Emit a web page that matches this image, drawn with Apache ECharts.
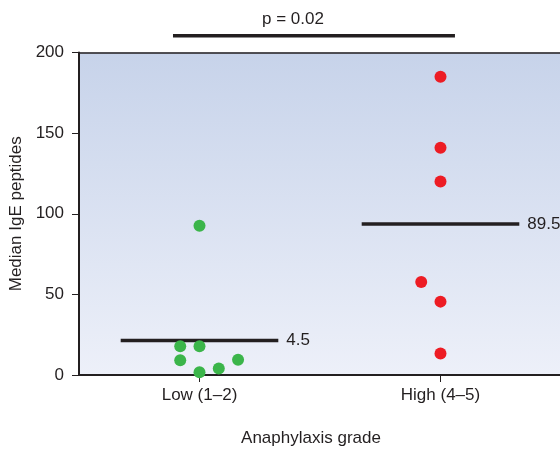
<!DOCTYPE html>
<html>
<head>
<meta charset="utf-8">
<script src="https://cdn.jsdelivr.net/npm/echarts@6/dist/echarts.min.js"></script>
<style>
  html, body { margin: 0; padding: 0; background: #fff; }
  #chart { width: 560px; height: 451px; }
</style>
</head>
<body>
<div id="chart"></div>
<script>
// groups on the x axis (value axis 0..2, groups centred at 0.5 and 1.5)
var groups = ['Low (1–2)', 'High (4–5)'];
var groupPos = [0.5, 1.5];

// individual patients (x = jittered position, y = median IgE peptides)
var lowX = [0.50, 0.42, 0.50, 0.42, 0.66, 0.50, 0.58];
var lowY = [92.5, 17.8, 17.8, 9.2, 9.4, 1.7, 4.0];
var highX = [1.50, 1.50, 1.50, 1.42, 1.50, 1.50];
var highY = [185, 141, 120, 57.7, 45.5, 13.3];

// median bars as drawn, and their printed values
var medianLevels = [21.4, 93.6];
var medianLabels = ['4.5', '89.5'];
var medianHalfWidth = 0.327;

// significance bar
var pSpan = [0.39, 1.56];
var pLevel = 210.4;
var pText = 'p = 0.02';

var ink = '#231f20';
var font = 'Liberation Sans, Arial, sans-serif';
var fs = 17;

function pairs(xs, ys) {
	var out = [];
	for (var i = 0; i < xs.length; i++) {
		out.push([xs[i], ys[i]]);
	}
	return out;
}

var series = [
	{
		type: 'scatter',
		symbolSize: 12,
		itemStyle: { color: '#3bb54a', opacity: 1 },
		data: pairs(lowX, lowY),
		z: 3
	},
	{
		type: 'scatter',
		symbolSize: 12,
		itemStyle: { color: '#ed1c24', opacity: 1 },
		data: pairs(highX, highY),
		z: 3
	}
];

// median lines with their labels at the right end
for (var i = 0; i < groups.length; i++) {
	series.push({
		type: 'line',
		symbol: 'none',
		silent: true,
		lineStyle: { color: ink, width: 3.5 },
		data: [[groupPos[i] - medianHalfWidth, medianLevels[i]], [groupPos[i] + medianHalfWidth, medianLevels[i]]],
		endLabel: {
			show: true,
			formatter: medianLabels[i],
			distance: 8,
			color: ink,
			fontSize: fs,
			fontFamily: font
		},
		z: 2
	});
}

// p value bar above the plot
series.push({
	type: 'line',
	symbol: 'none',
	silent: true,
	clip: false,
	lineStyle: { color: ink, width: 3.5 },
	data: [[pSpan[0], pLevel], [pSpan[1], pLevel]]
});

var chart = echarts.init(document.getElementById('chart'));
chart.setOption({
	animation: false,
	textStyle: { fontFamily: font },
	grid: {
		left: 79,
		right: -1,
		top: 52.5,
		bottom: 76,
		outerBoundsMode: 'none',
		containLabel: false,
		show: true,
		borderWidth: 0,
		backgroundColor: new echarts.graphic.LinearGradient(0, 0, 0, 1, [
			{ offset: 0, color: '#c7d3ea' },
			{ offset: 1, color: '#edf0f9' }
		])
	},
	xAxis: [
		{
			type: 'value',
			min: 0,
			max: 2,
			position: 'bottom',
			splitLine: { show: false },
			axisLine: { show: true, lineStyle: { color: ink, width: 2 } },
			axisTick: { show: true, length: 7, customValues: groupPos, lineStyle: { color: ink } },
			axisLabel: {
				customValues: groupPos,
				margin: 12,
				color: ink,
				fontSize: fs,
				formatter: function(v) {
					return groups[groupPos.indexOf(v)];
				}
			}
		},
		{
			type: 'value',
			min: 0,
			max: 2,
			position: 'top',
			splitLine: { show: false },
			axisLine: { show: true, lineStyle: { color: ink, width: 1.5 } },
			axisTick: { show: false },
			axisLabel: { show: false }
		}
	],
	yAxis: {
		type: 'value',
		min: 0,
		max: 200,
		interval: 50,
		name: 'Median IgE peptides',
		nameLocation: 'middle',
		nameGap: 52,
		nameTextStyle: { color: ink, fontSize: fs },
		splitLine: { show: false },
		axisLine: { show: true, lineStyle: { color: ink, width: 2 } },
		axisTick: { show: true, length: 7, lineStyle: { color: ink } },
		axisLabel: { color: ink, fontSize: fs, margin: 15 }
	},
	graphic: [
		{
			type: 'text',
			style: {
				text: 'Anaphylaxis grade',
				x: 311,
				y: 438,
				align: 'center',
				verticalAlign: 'middle',
				fill: ink,
				font: fs + 'px ' + font
			}
		},
		{
			type: 'text',
			style: {
				text: pText,
				x: 293,
				y: 19,
				align: 'center',
				verticalAlign: 'middle',
				fill: ink,
				font: fs + 'px ' + font
			}
		}
	],
	series: series
});
</script>
</body>
</html>
